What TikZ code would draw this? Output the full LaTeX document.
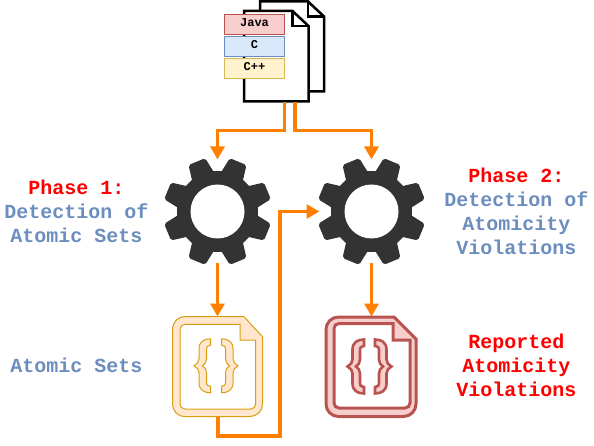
\documentclass[tikz,border=0pt]{standalone}
\usepackage{fontspec}
\setmainfont{Liberation Mono}
\usetikzlibrary{arrows.meta}
\definecolor{flow}{HTML}{FF8000}
\definecolor{bluetxt}{HTML}{6C8EBF}
\definecolor{geardark}{HTML}{333333}
\definecolor{redfill}{HTML}{F8CECC}
\definecolor{redline}{HTML}{B85450}
\definecolor{bluefill}{HTML}{DAE8FC}
\definecolor{blueline}{HTML}{6C8EBF}
\definecolor{yelfill}{HTML}{FFF2CC}
\definecolor{yelline}{HTML}{D6B656}
\definecolor{orfill}{HTML}{FFE6CC}
\definecolor{orline}{HTML}{D99E14}
\tikzset{
  flowline/.style={draw=flow,line width=3.2pt,-{Triangle[length=13pt,width=14pt]}},
  anchorbox/.style={inner sep=0pt,outer sep=0pt,draw=none,fill=none},
  langbox/.style={anchor=center,minimum width=60pt,minimum height=20pt,inner sep=0pt,line width=1pt},
  langtxt/.style={font=\bfseries\fontsize{12}{14}\selectfont,black},
  label/.style={align=center,inner sep=0pt,font=\bfseries\fontsize{20}{24}\selectfont},
  docsheet/.style={draw=black,line width=2.5pt,fill=white,line join=miter},
  gearpic/.pic={
    \foreach \a in {22.5,67.5,...,337.5}{
      \fill[geardark,rounded corners=2pt,rotate=\a] (36,-12) -- (54,-9) -- (54,9) -- (36,12) -- cycle;
    }
    \fill[geardark] (0,0) circle[radius=40.5];
    \fill[white] (0,0) circle[radius=27];
  },
  braces/.pic={
    \foreach \s in {1,-1}{
      \begin{scope}[xscale=\s]
      \path[bracestyle] (-5.5,-27) .. controls (-12,-27) and (-17,-24) .. (-17,-17)
        -- (-17,-7) .. controls (-17,-4) and (-19,-1.5) .. (-22,0)
        .. controls (-19,1.5) and (-17,4) .. (-17,7)
        -- (-17,17) .. controls (-17,24) and (-12,27) .. (-5.5,27)
        -- (-5.5,20.5) .. controls (-8,20.5) and (-9.5,19.5) .. (-9.5,16)
        -- (-9.5,7) .. controls (-9.5,4) and (-11,1.5) .. (-13.5,0)
        .. controls (-11,-1.5) and (-9.5,-4) .. (-9.5,-7)
        -- (-9.5,-16) .. controls (-9.5,-19.5) and (-8,-20.5) .. (-5.5,-20.5) -- cycle;
      \end{scope}
    }
  },
  bracestyle/.style={},
}
\begin{document}
\begin{tikzpicture}[x=1pt,y=-1pt]
\useasboundingbox (0,0) rectangle (594,446);

% stacked documents
\draw[docsheet] (260,1.5) -- (308,1.5) -- (324,16.5) -- (324,91.5) -- (260,91.5) -- cycle;
\draw[docsheet,fill=none] (308,1.5) -- (308,16.5) -- (324,16.5);
\draw[docsheet] (244,11) -- (292.5,11) -- (308.5,26) -- (308.5,101.5) -- (244,101.5) -- cycle;
\draw[docsheet,fill=none] (292.5,11) -- (292.5,26) -- (308.5,26);
\node[langbox,draw=redline,fill=redfill] (java) at (254.5,24.3) {};
\node[langbox,draw=blueline,fill=bluefill] (cbox) at (254.5,46.3) {};
\node[langbox,draw=yelline,fill=yelfill] (cpp) at (254.5,68.3) {};
\node[langtxt,inner sep=0pt] (javat) at (254.5,23) {Java};
\node[langtxt,inner sep=0pt] (ct) at (254.5,45) {C};
\node[langtxt,inner sep=0pt] (cppt) at (254.5,67) {C++};
\coordinate (d1) at (284.5,102);
\coordinate (d2) at (295,102);

% gears
\node[anchorbox,circle,minimum size=104pt] (g1) at (217.5,211.5) {};
\node[anchorbox,circle,minimum size=104pt] (g2) at (371.5,211.5) {};
\pic at (g1) {gearpic};
\pic at (g2) {gearpic};

% result files
\node[anchorbox,minimum width=90pt,minimum height=100pt] (f1) at (218,366.5) {};
\node[anchorbox,minimum width=91pt,minimum height=100pt] (f2) at (371.5,366.5) {};

\path[fill=orfill,draw=orline,line width=1pt,even odd rule]
  (185,316.7) -- (244,316.7) -- (262.5,336.7) -- (262.5,404) arc[start angle=0,end angle=90,radius=12.5] -- (185,416.7)
  arc[start angle=90,end angle=180,radius=12.5] -- (172.5,329) arc[start angle=180,end angle=270,radius=12.5] -- cycle
  (185,324.3) -- (240,324.3) -- (240,340) -- (255.7,340) -- (255.7,404) arc[start angle=0,end angle=90,radius=5] -- (185,409)
  arc[start angle=90,end angle=180,radius=5] -- (180,329.3) arc[start angle=180,end angle=270,radius=5] -- cycle;
\begin{scope}[bracestyle/.style={fill=orfill,draw=orline,line width=1pt}]
\pic at (216,365.8) {braces};
\end{scope}

\path[fill=redfill,draw=redline,line width=3pt,even odd rule]
  (338,317) -- (394,317) -- (416,339) -- (416,404) arc[start angle=0,end angle=90,radius=12.5] -- (338.5,416.5)
  arc[start angle=90,end angle=180,radius=12.5] -- (326,329.5) arc[start angle=180,end angle=270,radius=12.5] -- cycle
  (339,323.5) -- (393,323.5) -- (393,340) -- (410,340) -- (410,403) arc[start angle=0,end angle=90,radius=5] -- (339,408)
  arc[start angle=90,end angle=180,radius=5] -- (334,328.5) arc[start angle=180,end angle=270,radius=5] -- cycle;
\begin{scope}[bracestyle/.style={fill=redfill,draw=redline,line width=2.6pt}]
\pic at (369.5,366.5) {braces};
\end{scope}

% connectors
\coordinate (turn) at (280,436);
\draw[flowline] (d1) -- ++(0,28.5) -| (g1.north);
\draw[flowline] (d2) -- ++(0,28.5) -| (g2.north);
\draw[flowline] (g1.south) -- (f1.north -| g1.south);
\draw[flowline] (g2.south) -- (f2.north);
\draw[flowline] (f1.south) |- (turn) |- (g2.west);

% labels
\node[label] (phase1) at (76.5,211.2) {\textcolor{red}{Phase 1:}\\\textcolor{bluetxt}{Detection of}\\\textcolor{bluetxt}{Atomic Sets}};
\node[label] (phase2) at (516.5,211.2) {\textcolor{red}{Phase 2:}\\\textcolor{bluetxt}{Detection of}\\\textcolor{bluetxt}{Atomicity}\\\textcolor{bluetxt}{Violations}};
\node[label,text=bluetxt] (sets) at (76.5,365.2) {Atomic Sets};
\node[label,text=red] (report) at (516.5,365.2) {Reported\\Atomicity\\Violations};
\end{tikzpicture}
\end{document}
